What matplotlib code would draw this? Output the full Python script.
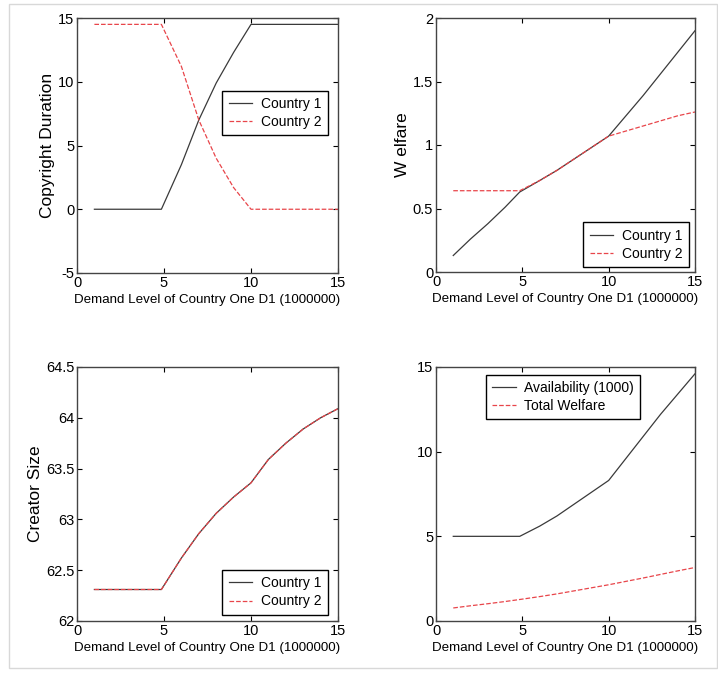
import numpy as np
import matplotlib.pyplot as plt
from matplotlib.patches import Rectangle

plt.rcParams["font.family"] = ["Liberation Sans", "DejaVu Sans"]
plt.rcParams["axes.unicode_minus"] = False

# demand level of country one (x axis, in 1000000)
d1 = [1, 2, 3, 4, 4.85, 6, 7, 8, 9, 10, 11, 12, 13, 14, 15]

# copyright duration
dur_c1 = [0, 0, 0, 0, 0, 3.5, 7.0, 9.9, 12.3, 14.5, 14.5, 14.5, 14.5, 14.5, 14.5]
dur_c2 = [14.5, 14.5, 14.5, 14.5, 14.5, 11.2, 7.0, 4.0, 1.7, 0, 0, 0, 0, 0, 0]

# welfare
wel_c1 = [0.13, 0.26, 0.38, 0.51, 0.63, 0.72, 0.80, 0.89, 0.98, 1.07, 1.23, 1.39, 1.56, 1.73, 1.90]
wel_c2 = [0.64, 0.64, 0.64, 0.64, 0.64, 0.72, 0.80, 0.89, 0.98, 1.07, 1.11, 1.15, 1.19, 1.23, 1.26]

# creator size (both countries identical)
cre_c1 = [62.31, 62.31, 62.31, 62.31, 62.31, 62.62, 62.86, 63.06, 63.22, 63.36, 63.59, 63.75, 63.89, 64.00, 64.09]
cre_c2 = [62.31, 62.31, 62.31, 62.31, 62.31, 62.62, 62.86, 63.06, 63.22, 63.36, 63.59, 63.75, 63.89, 64.00, 64.09]

# availability and total welfare
avail = [5.0, 5.0, 5.0, 5.0, 5.0, 5.6, 6.2, 6.9, 7.6, 8.3, 9.6, 10.9, 12.2, 13.4, 14.6]
tot_wel = [0.77, 0.90, 1.02, 1.15, 1.27, 1.44, 1.60, 1.78, 1.96, 2.14, 2.34, 2.54, 2.75, 2.96, 3.16]

xlab = "Demand Level of Country One D1 (1000000)"
BLACK = "#3a3a3a"
RED = "#e8454a"

fig = plt.figure(figsize=(7.18, 6.77), dpi=100)
fig.patches.append(Rectangle((9/718, 1-668/677), 708/718, 664/677, transform=fig.transFigure,
                             fill=False, edgecolor="#d8d8d8", lw=1))

def make_ax(rect, ylim, yticks, ylabel=None):
    ax = fig.add_axes(rect)
    ax.set_xlim(0, 15)
    ax.set_ylim(*ylim)
    ax.set_xticks([0, 5, 10, 15])
    ax.set_yticks(yticks)
    ax.tick_params(direction="in", top=True, right=True, length=3.5, width=0.8,
                   labelsize=10.5, pad=2)
    for s in ax.spines.values():
        s.set_linewidth(1.0)
        s.set_color("#444444")
    ax.set_xlabel(xlab, fontsize=9.6, labelpad=3)
    if ylabel:
        ax.set_ylabel(ylabel, fontsize=12.5, labelpad=2,
                      family=["Liberation Sans Narrow", "Liberation Sans"])
    return ax

def legend(ax, labels, loc, anchor):
    ax.legend(labels, loc=loc, bbox_to_anchor=anchor, fontsize=10, frameon=True,
              fancybox=False, edgecolor="black", framealpha=1, handlelength=1.7,
              borderpad=0.45, labelspacing=0.3, handletextpad=0.6, borderaxespad=0)

# top left
ax1 = make_ax([77/718, 1-273/677, 261/718, 255/677], (-5, 15), [-5, 0, 5, 10, 15], "Copyright Duration")
ax1.plot(d1, dur_c1, color=BLACK, lw=0.9)
ax1.plot(d1, dur_c2, color=RED, lw=0.9, ls="--")
legend(ax1, ["Country 1", "Country 2"], "upper right", (0.96, 0.715))

# top right
ax2 = make_ax([436/718, 1-272/677, 259/718, 254/677], (0, 2), [0, 0.5, 1, 1.5, 2], "W elfare")
ax2.set_yticklabels(["0", "0.5", "1", "1.5", "2"])
ax2.plot(d1, wel_c1, color=BLACK, lw=0.9)
ax2.plot(d1, wel_c2, color=RED, lw=0.9, ls="--")
legend(ax2, ["Country 1", "Country 2"], "lower right", (0.975, 0.02))

# bottom left
ax3 = make_ax([77/718, 1-621/677, 261/718, 254/677], (62, 64.5), [62, 62.5, 63, 63.5, 64, 64.5], "Creator Size")
ax3.set_yticklabels(["62", "62.5", "63", "63.5", "64", "64.5"])
ax3.plot(d1, cre_c1, color=BLACK, lw=0.9)
ax3.plot(d1, cre_c2, color=RED, lw=0.9, ls="--")
legend(ax3, ["Country 1", "Country 2"], "lower right", (0.96, 0.025))

# bottom right
ax4 = make_ax([436/718, 1-621/677, 259/718, 254/677], (0, 15), [0, 5, 10, 15])
ax4.plot(d1, avail, color=BLACK, lw=0.9)
ax4.plot(d1, tot_wel, color=RED, lw=0.9, ls="--")
legend(ax4, ["Availability (1000)", "Total Welfare"], "upper left", (0.193, 0.97))

fig.savefig("out.png", dpi=100)
